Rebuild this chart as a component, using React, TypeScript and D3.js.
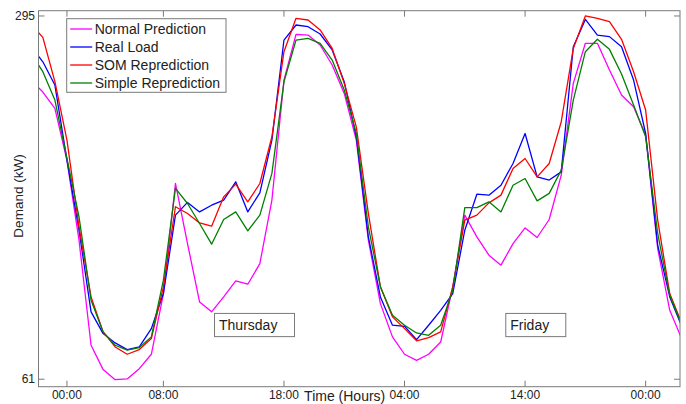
import * as d3 from 'd3';

// hourly samples, hour 0 = Thursday 00:00
const hours = d3.range(-3, 52);

const normalPrediction = [
  254, 246, 235.5, 202, 150.6, 82.9, 67.2, 60.7, 61.2, 67.8, 77.1, 116, 187.1, 148.4, 110.8, 104.4,
  114.1, 124.4, 122.2, 135.5, 176.4, 253.7, 283.2, 282.7, 276.3, 263.4, 245.1, 215.0, 150.6, 109.7,
  88.3, 77.1, 73.2, 77.1, 85.0, 120.5, 166.7, 152.7, 140.9, 134.5, 148.4, 158.5, 152.3, 163.9, 192.5,
  251.6, 277.4, 277.4, 260.2, 244.1, 236.5, 218.3, 145.2, 105.4, 87,
];
const realLoad = [
  275.5, 265.5, 250.5, 202.2, 157, 104.4, 90.4, 84.4, 80.1, 81.8, 93.6, 116.2, 166.7, 174.9, 168.8,
  173.1, 176.4, 188.2, 168.8, 181.1, 215.0, 279.5, 289.2, 288.1, 283.4, 273.1, 252.7, 217.2, 152.7,
  114.0, 95.8, 95.1, 86.5, 95.8, 105.4, 116.2, 157.0, 180.2, 179.6, 186.0, 200.0, 219.3, 191.4, 189.3,
  194.6, 275.2, 292.8, 282.7, 281.7, 275.2, 253.7, 219.3, 147.4, 114.0, 95,
];
const somReprediction = [
  290, 281.2, 252.7, 215.0, 159.2, 114.0, 91.5, 81.8, 77.1, 80.1, 87.2, 120.5, 172.1, 167.8, 161.7,
  159.6, 178.5, 186.7, 175.3, 187.1, 217.2, 272.0, 293.5, 292.4, 286.0, 274.1, 251.6, 223.6, 167.8,
  120.5, 101.2, 93.6, 85.7, 87.8, 91.5, 120.5, 163.5, 166.7, 174.6, 179.6, 196.8, 203.2, 191.4, 200.0,
  226.9, 274.1, 295.0, 293.5, 291.3, 280.0, 259.1, 234.4, 163.5, 116.2, 97,
];
const simpleReprediction = [
  271, 259.1, 240.8, 203.2, 165.6, 111.9, 91.5, 82.9, 79.7, 81.4, 88.3, 124.8, 183.9, 174.2, 161.3,
  148.0, 163.9, 168.8, 156.6, 166.7, 193.6, 252.6, 279.5, 280.6, 277.4, 266.6, 247.3, 219.3, 159.2,
  120.5, 102.2, 95.8, 90.8, 89.3, 95.8, 118.3, 171.6, 171.6, 175.3, 168.8, 186.0, 190.3, 175.9, 180.7,
  195.7, 240.8, 272.0, 280.0, 273.5, 257.6, 237.6, 217.2, 154.9, 115.1, 96,
];

const seriesNames = ['Normal Prediction', 'Real Load', 'SOM Reprediction', 'Simple Reprediction'];
const seriesColors = ['#ff00ff', '#0000ff', '#ff0000', '#008000'];
const seriesValues = [normalPrediction, realLoad, somReprediction, simpleReprediction];

const xTickHours = [0, 8, 18, 28, 38, 48];
const xTickLabels = ['00:00', '08:00', '18:00', '04:00', '14:00', '00:00'];
const yTicks = [61, 295];

// day labels: [text, hour, value, box width]
const dayLabels: [string, number, number, number][] = [
  ['Thursday', 12.24, 103.4, 80],
  ['Friday', 36.4, 103.4, 60],
];

const W = 686;
const H = 404;
const FONT = '"Liberation Sans", Arial, Helvetica, sans-serif';

export default function App() {
  const x = d3.scaleLinear().domain([-2.36, 50.85]).range([38.5, 680]);
  const y = d3.scaleLinear().domain([56.2, 298.4]).range([386.7, 10.7]);
  const [x0, x1] = x.range();
  const [y0, y1] = y.range();

  const line = d3.line<number>()
    .x((_, i) => x(hours[i]))
    .y(d => y(d));

  const tickLen = 6;
  const axisColor = '#7a7a7a';

  return (
    <svg width={W} height={H} style={{ position: 'absolute', left: 0, top: 0, background: '#fff' }}
      fontFamily={FONT}>
      <defs>
        <clipPath id="plotClip">
          <rect x={x0} y={y1} width={x1 - x0} height={y0 - y1} />
        </clipPath>
      </defs>

      {/* series */}
      <g clipPath="url(#plotClip)">
        {seriesValues.map((vals, i) => (
          <path key={seriesNames[i]} d={line(vals) || ''} fill="none"
            stroke={seriesColors[i]} strokeWidth={1.3} strokeLinejoin="round" />
        ))}
      </g>

      {/* frame */}
      <rect x={x0} y={y1} width={x1 - x0} height={y0 - y1} fill="none" stroke={axisColor} strokeWidth={1} />

      {/* x ticks */}
      {xTickHours.map((h, i) => (
        <g key={'xt' + i}>
          <line x1={x(h)} x2={x(h)} y1={y0} y2={y0 - tickLen} stroke={axisColor} />
          <line x1={x(h)} x2={x(h)} y1={y1} y2={y1 + tickLen} stroke={axisColor} />
          <text x={x(h)} y={399} fontSize={12} textAnchor="middle" fill="#222">{xTickLabels[i]}</text>
        </g>
      ))}

      {/* y ticks */}
      {yTicks.map(v => (
        <g key={'yt' + v}>
          <line x1={x0} x2={x0 + tickLen} y1={y(v)} y2={y(v)} stroke={axisColor} />
          <line x1={x1} x2={x1 - tickLen} y1={y(v)} y2={y(v)} stroke={axisColor} />
          <text x={35} y={y(v) + 4} fontSize={12} textAnchor="end" fill="#222">{v}</text>
        </g>
      ))}

      {/* axis titles */}
      <text x={344.7} y={401} fontSize={14} textAnchor="middle" fill="#222">Time (Hours)</text>
      <text transform={`translate(23, 196) rotate(-90)`} fontSize={13.5} textAnchor="middle" fill="#222">Demand (kW)</text>

      {/* day annotations */}
      {dayLabels.map(([label, h, v, w]) => (
        <g key={label} transform={`translate(${x(h)}, ${y(v)})`}>
          <rect x={0} y={0} width={w} height={23.2} fill="#fff" stroke={axisColor} />
          <text x={4.5} y={16.8} fontSize={14} fill="#222">{label}</text>
        </g>
      ))}

      {/* legend */}
      <g transform="translate(66.7, 18.7)">
        <rect x={0} y={0} width={159.3} height={73.6} fill="#fff" stroke={axisColor} />
        {seriesNames.map((name, i) => (
          <g key={name} transform={`translate(0, ${10.3 + i * 18})`}>
            <line x1={3.5} x2={25.5} y1={0} y2={0} stroke={seriesColors[i]} strokeWidth={1.3} />
            <text x={28} y={5} fontSize={14} fill="#222">{name}</text>
          </g>
        ))}
      </g>
    </svg>
  );
}
